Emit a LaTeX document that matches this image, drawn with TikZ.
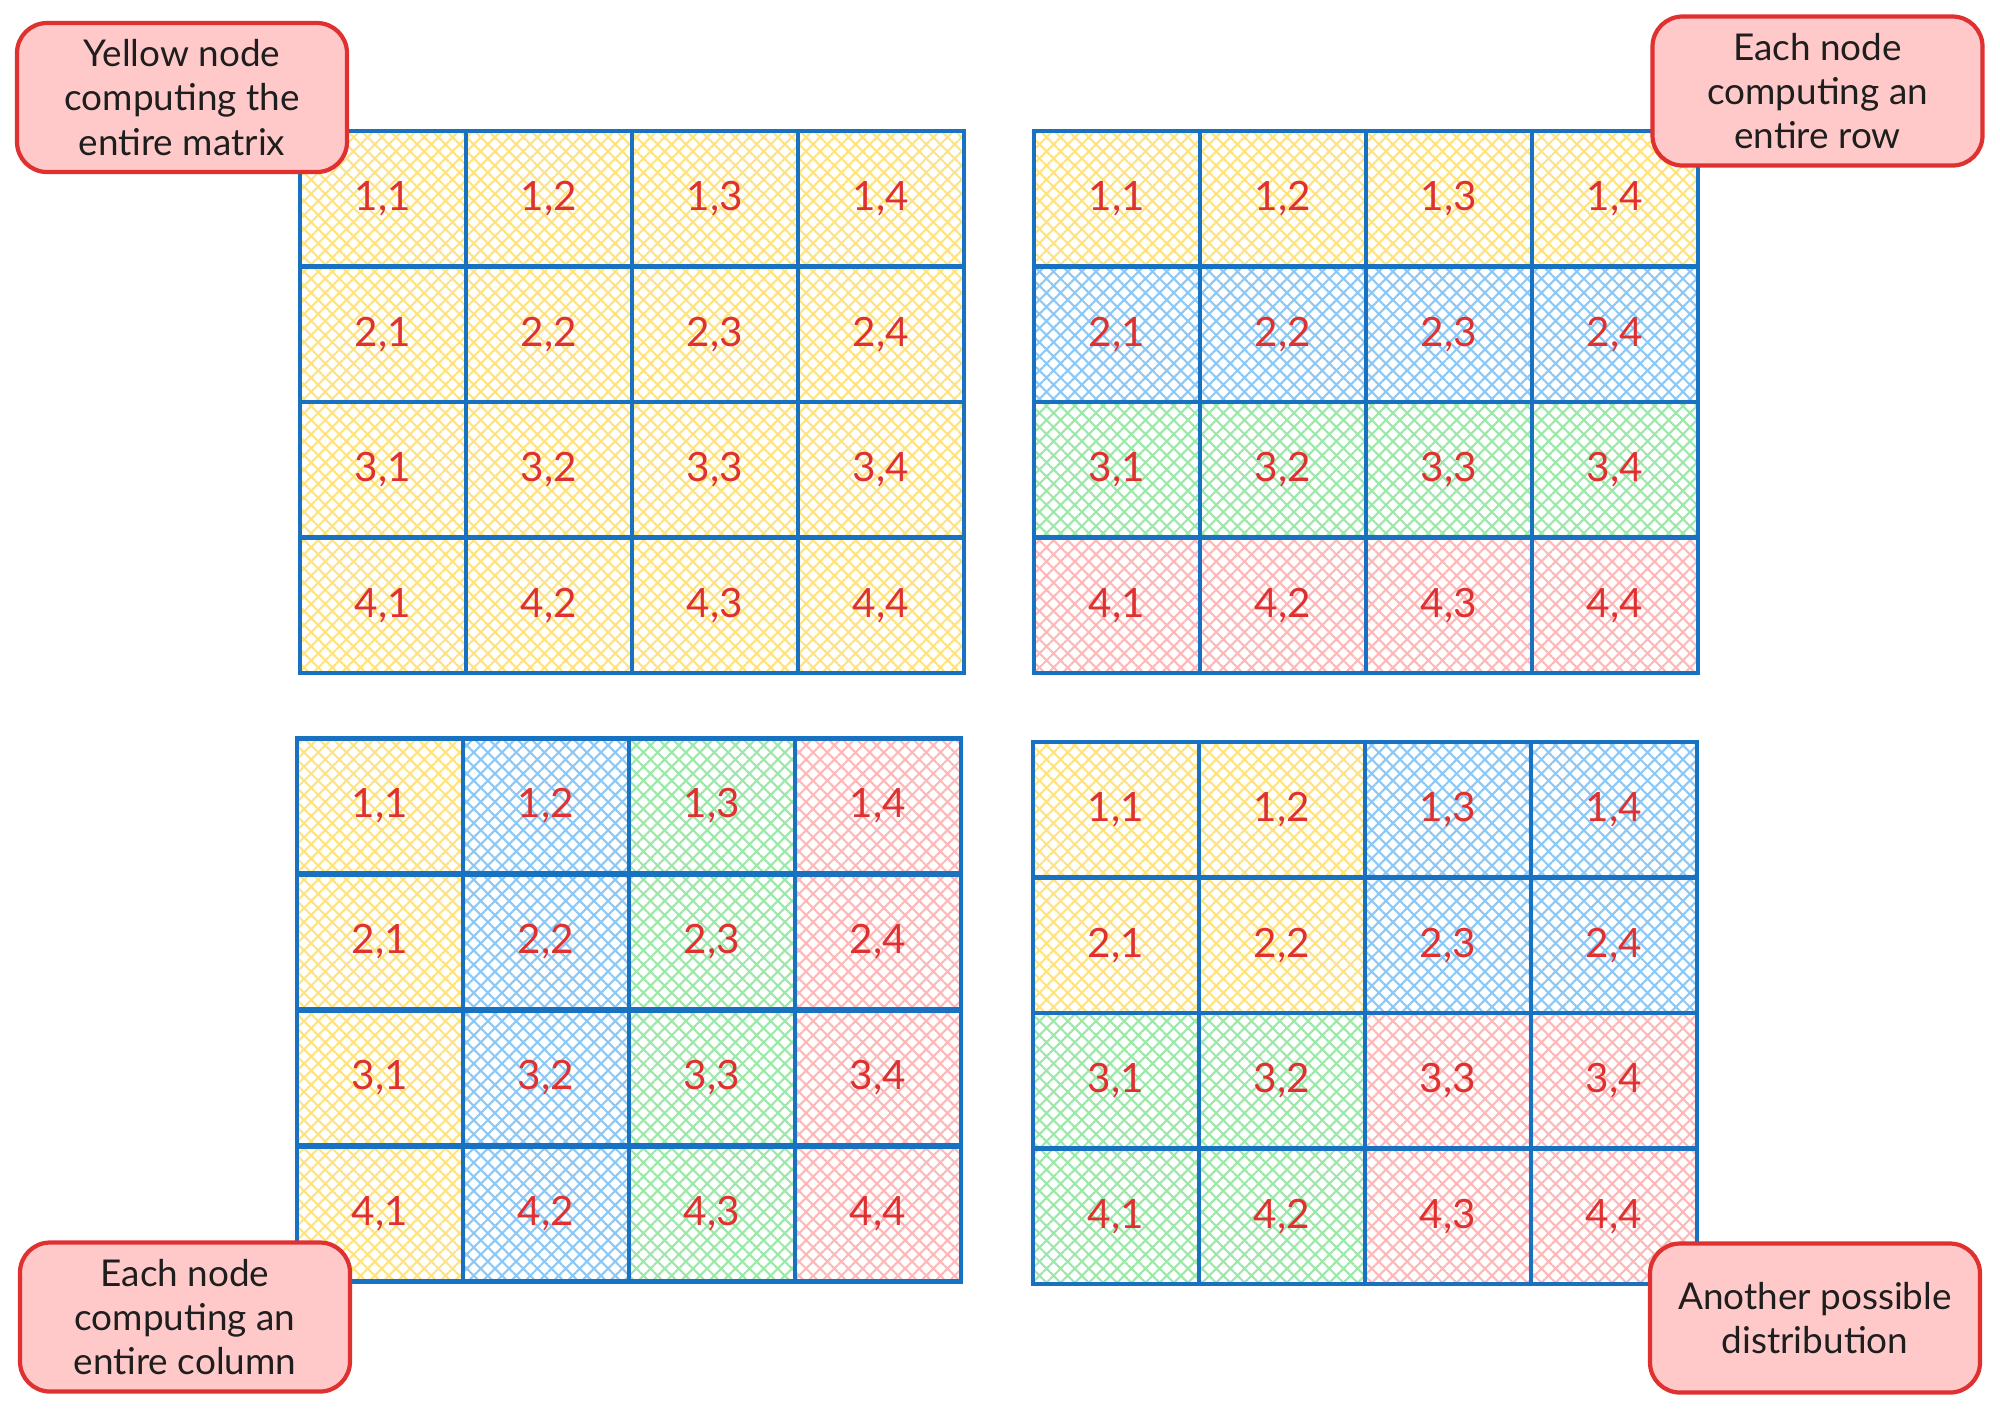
\documentclass[tikz,border=0pt]{standalone}
\usepackage{fontspec}
\setmainfont{Lato}
\usetikzlibrary{patterns.meta}
\definecolor{cellblue}{HTML}{1971C2}
\definecolor{hy}{HTML}{FFE380}
\definecolor{hb}{HTML}{8CC8F5}
\definecolor{hg}{HTML}{9BE8A8}
\definecolor{hr}{HTML}{FFB8B8}
\definecolor{txtred}{HTML}{E03131}
\definecolor{notefill}{HTML}{FFC9C9}
\definecolor{notedraw}{HTML}{E03131}
\definecolor{ink}{HTML}{1E1E1E}
\tikzset{
  cell/.style={draw=cellblue, line width=1.3pt, minimum width=1.66cm, minimum height=1.355cm,
    inner sep=0pt, text=txtred, font=\fontsize{11.5}{13}\selectfont},
  hatch/.style={preaction={pattern={Hatch[angle=45,distance=1.0mm,line width=0.6pt]}, pattern color=#1}},
  note/.style={draw=notedraw, fill=notefill, line width=1.2pt, rounded corners=0.3cm, align=center,
    text=ink, inner sep=0pt, minimum width=3.3cm, minimum height=1.49cm, font=\fontsize{10.5}{12.6}\selectfont},
}
\begin{document}
\begin{tikzpicture}
\useasboundingbox (0,0) rectangle (20,-14.1);
% top-left grid: whole matrix yellow
\foreach \i in {1,...,4}{
  \foreach \j in {1,...,4}{
    \node[cell, hatch=hy] (tl-\i-\j) at ({3.00+(\j-0.5)*1.66}, {-1.31-(\i-0.5)*1.355}) {\i,\j};
  }
}
% top-right grid: rows
\foreach \i/\c in {1/hy,2/hb,3/hg,4/hr}{
  \foreach \j in {1,...,4}{
    \node[cell, hatch=\c] (tr-\i-\j) at ({10.34+(\j-0.5)*1.66}, {-1.31-(\i-0.5)*1.355}) {\i,\j};
  }
}
% bottom-left grid: columns
\foreach \i in {1,...,4}{
  \foreach \j/\c in {1/hy,2/hb,3/hg,4/hr}{
    \node[cell, hatch=\c] (bl-\i-\j) at ({2.97+(\j-0.5)*1.66}, {-7.38-(\i-0.5)*1.36}) {\i,\j};
  }
}
% bottom-right grid: blocks
\foreach \i/\j/\c in {1/1/hy,1/2/hy,2/1/hy,2/2/hy,1/3/hb,1/4/hb,2/3/hb,2/4/hb,
                      3/1/hg,3/2/hg,4/1/hg,4/2/hg,3/3/hr,3/4/hr,4/3/hr,4/4/hr}{
  \node[cell, hatch=\c] (br-\i-\j) at ({10.33+(\j-0.5)*1.66}, {-7.42-(\i-0.5)*1.355}) {\i,\j};
}
% notes
\node[note] (n1) at (1.82,-0.975) {Yellow node\\computing the\\entire matrix};
\node[note] (n2) at (18.175,-0.91) {Each node\\computing an\\entire row};
\node[note] (n3) at (1.85,-13.17) {Each node\\computing an\\entire column};
\node[note] (n4) at (18.15,-13.18) {Another possible\\distribution};
\end{tikzpicture}
\end{document}
